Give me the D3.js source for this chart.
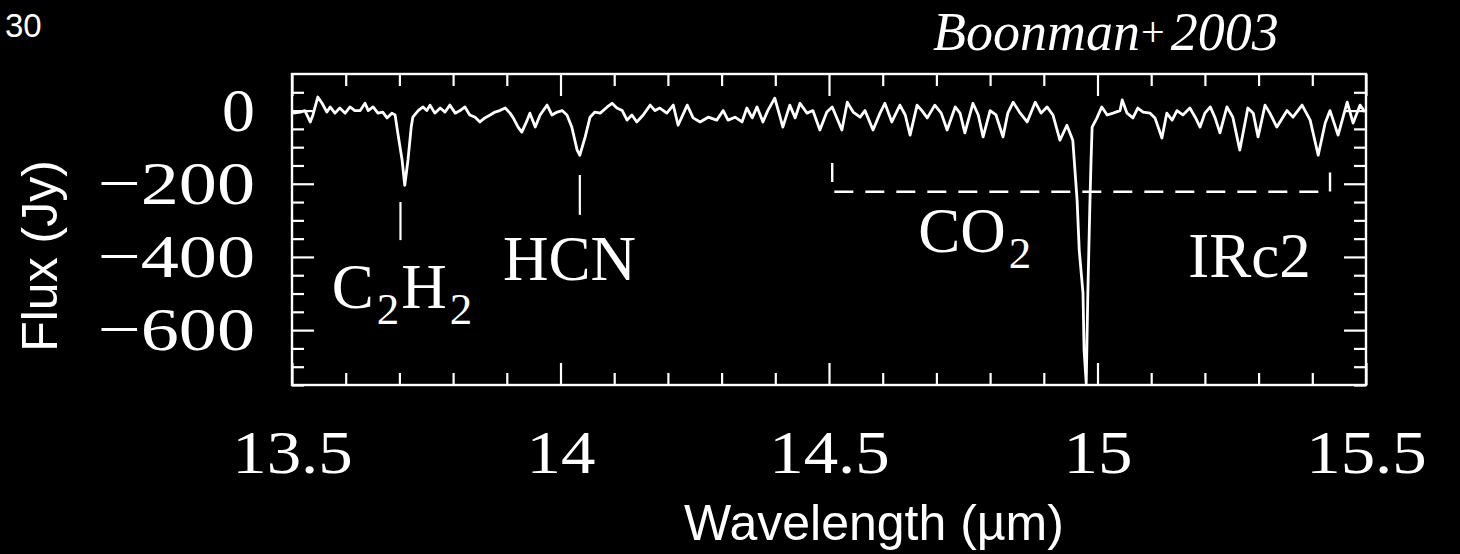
<!DOCTYPE html>
<html>
<head>
<meta charset="utf-8">
<script src="https://cdn.jsdelivr.net/npm/d3@7"></script>
<style>
  html, body { margin: 0; padding: 0; background: #000; }
  svg { display: block; }
</style>
</head>
<body>
<svg id="chart" width="1460" height="554"></svg>
<script>
// ISO-SWS spectrum towards Orion IRc2: flux (Jy) against wavelength (µm)
const wavelength = [
  13.502, 13.515, 13.524, 13.534, 13.539, 13.548, 13.556, 13.565, 13.571, 13.580,
  13.589, 13.599, 13.608, 13.617, 13.627, 13.636, 13.642, 13.651, 13.660, 13.669,
  13.677, 13.686, 13.692, 13.697, 13.705, 13.710, 13.716, 13.722, 13.725, 13.735,
  13.744, 13.751, 13.757, 13.766, 13.776, 13.785, 13.794, 13.804, 13.813, 13.822,
  13.831, 13.841, 13.850, 13.859, 13.869, 13.878, 13.887, 13.897, 13.906, 13.912,
  13.921, 13.928, 13.938, 13.943, 13.953, 13.962, 13.975, 13.984, 13.994, 14.003,
  14.012, 14.021, 14.031, 14.036,
  14.046, 14.055, 14.064, 14.074, 14.087, 14.096, 14.105, 14.115, 14.124, 14.133,
  14.142, 14.154, 14.167, 14.176, 14.185, 14.198, 14.210, 14.219, 14.236, 14.247,
  14.260, 14.275, 14.291, 14.303, 14.312, 14.325, 14.338, 14.347, 14.357, 14.366,
  14.377, 14.386, 14.399, 14.409, 14.414, 14.427, 14.437, 14.446, 14.459, 14.470,
  14.483, 14.496, 14.506, 14.524, 14.534,
  14.545, 14.558, 14.567, 14.582, 14.595, 14.604, 14.617, 14.632, 14.642, 14.651,
  14.664, 14.673, 14.683, 14.697, 14.709, 14.720, 14.735, 14.744, 14.753, 14.768,
  14.778, 14.787, 14.800, 14.811, 14.824, 14.833, 14.843, 14.856, 14.869, 14.884,
  14.895, 14.906, 14.917, 14.930, 14.943, 14.954, 14.962, 14.966, 14.973, 14.975,
  14.979, 14.982, 14.986, 14.988, 14.990, 14.999, 15.008, 15.018, 15.029, 15.042,
  15.046, 15.055, 15.066, 15.075, 15.085, 15.098, 15.107, 15.120, 15.129, 15.139,
  15.148, 15.159, 15.172, 15.182, 15.191, 15.200, 15.210, 15.219, 15.228, 15.241,
  15.252, 15.265, 15.280, 15.290, 15.299, 15.312, 15.321, 15.334, 15.353, 15.364,
  15.381, 15.396, 15.411, 15.424, 15.433, 15.448, 15.465, 15.476, 15.489, 15.498
];
const flux = [
  -7, -4, 0, -31, -12, 37, 20, -4, 10, -7,
  7, -7, 10, 0, 0, 20, 0, 10, -7, -4,
  -20, -7, -12, -61, -135, -204, -135, -45, -18, 0,
  10, 0, 15, -7, 7, -4, 15, -7, 0, 10,
  -12, -18, -31, -20, -12, -4, 0, 7, -7, -20,
  -45, -59, -26, -7, -45, -12, 15, -12, -4, 0,
  -12, -45, -108, -122,
  -72, -18, -4, -7, 10, 20, 7, 0, -26, -12,
  -31, -12, 15, 0, 7, -7, 15, -40, 15, -20,
  -31, -18, -26, 0, -26, -18, -31, 7, -20, 10,
  -31, 0, 34, -18, -45, 15, -20, 20, -7, 0,
  -53, -4, 10, -53, 23,
  -4, -18, 0, -53, -7, 20, -31, 15, -12, -67,
  15, 0, -20, 15, -7, -53, 10, -7, -61, 20,
  -12, -72, 0, -12, -72, -7, 23, -7, -31, 23,
  -7, 10, -12, -81, -40, -81, -245, -382, -499, -655,
  -745, -499, -245, -135, -45, -20, 10, -12, -7, 0,
  29, -7, -20, 7, -4, -7, -20, -75, -7, -26,
  0, -12, 7, -18, -45, -7, 10, -20, -61, 10,
  -18, -108, 7, -7, -72, 15, -7, -45, 0, -18,
  15, -26, -122, -34, 0, -67, 23, -34, 15, -4
];

// Axis ticks
const xTickLabels = [13.5, 14, 14.5, 15, 15.5];
const yTickLabels = [0, -200, -400, -600];

// Line identifications: [wavelength, upper flux, lower flux]
const lineMarks = [[13.702, -250, -354], [14.036, -176, -285]];
// CO2 band bracket: corner points [wavelength, flux]
const co2Bracket = [[14.506, -143], [14.506, -222], [15.433, -222], [15.433, -160]];

const svg = d3.select("#chart");
const width = 1460, height = 554;
const plotLeft = 292, plotRight = 1366, plotTop = 74, plotBottom = 385;

svg.append("rect").attr("width", width).attr("height", height).attr("fill", "#000");

const x = d3.scaleLinear().domain([13.5, 15.5]).range([plotLeft, plotRight]);
const y = d3.scaleLinear().domain([-750, 100]).range([plotBottom, plotTop]);

const xMinor = d3.range(13.6, 15.45, 0.1).filter(v => Math.abs(v * 2 - Math.round(v * 2)) > 1e-6);
const yMinor = d3.range(50, -751, -50).filter(v => v % 200 !== 0);

const serif = "'Liberation Serif', 'Times New Roman', serif";
const sans = "'Liberation Sans', Arial, Helvetica, sans-serif";

function styleAxis(g) {
  g.select(".domain").remove();
  g.selectAll(".tick line").attr("stroke", "#fff").attr("stroke-width", 2.2);
}

// bottom axis: minor + major ticks with labels
svg.append("g").attr("transform", `translate(0,${plotBottom})`)
  .call(d3.axisBottom(x).tickValues(xMinor).tickSizeInner(-12).tickSizeOuter(0).tickFormat(""))
  .call(styleAxis);
const xAxisG = svg.append("g").attr("transform", `translate(0,${plotBottom})`)
  .call(d3.axisBottom(x).tickValues(xTickLabels).tickSizeInner(-22).tickSizeOuter(0)
    .tickPadding(45).tickFormat(d3.format("")))
  .call(styleAxis);
xAxisG.selectAll("text")
  .attr("fill", "#fff").attr("font-family", serif).attr("font-size", 61);

// top axis (ticks only)
svg.append("g").attr("transform", `translate(0,${plotTop})`)
  .call(d3.axisTop(x).tickValues(xMinor).tickSizeInner(-12).tickSizeOuter(0).tickFormat(""))
  .call(styleAxis);
svg.append("g").attr("transform", `translate(0,${plotTop})`)
  .call(d3.axisTop(x).tickValues(xTickLabels).tickSizeInner(-22).tickSizeOuter(0).tickFormat(""))
  .call(styleAxis);

// left axis with labels
svg.append("g").attr("transform", `translate(${plotLeft},0)`)
  .call(d3.axisLeft(y).tickValues(yMinor).tickSizeInner(-12).tickSizeOuter(0).tickFormat(""))
  .call(styleAxis);
const yAxisG = svg.append("g").attr("transform", `translate(${plotLeft},0)`)
  .call(d3.axisLeft(y).tickValues(yTickLabels).tickSizeInner(-22).tickSizeOuter(0)
    .tickPadding(37).tickFormat(d => d < 0 ? "\u2212" + Math.abs(d) : String(d)))
  .call(styleAxis);
yAxisG.selectAll("text")
  .attr("fill", "#fff").attr("font-family", serif).attr("font-size", 61);

// right axis (ticks only)
svg.append("g").attr("transform", `translate(${plotRight},0)`)
  .call(d3.axisRight(y).tickValues(yMinor).tickSizeInner(-12).tickSizeOuter(0).tickFormat(""))
  .call(styleAxis);
svg.append("g").attr("transform", `translate(${plotRight},0)`)
  .call(d3.axisRight(y).tickValues(yTickLabels).tickSizeInner(-22).tickSizeOuter(0).tickFormat(""))
  .call(styleAxis);

// widen the serif numerals to a Computer-Modern-like proportion
xAxisG.selectAll("text").each(function () {
  const w = this.getComputedTextLength();
  d3.select(this).attr("textLength", w * 1.13).attr("lengthAdjust", "spacingAndGlyphs");
});
yAxisG.selectAll("text").each(function (d) {
  const w = this.getComputedTextLength();
  d3.select(this).attr("textLength", w * (d < 0 ? 1.25 : 1.08)).attr("lengthAdjust", "spacingAndGlyphs");
});

// frame
svg.append("rect")
  .attr("x", plotLeft).attr("y", plotTop)
  .attr("width", plotRight - plotLeft).attr("height", plotBottom - plotTop)
  .attr("fill", "none").attr("stroke", "#fff").attr("stroke-width", 2.4);

// spectrum
const spectrum = wavelength.map((w, i) => [w, flux[i]]);
svg.append("path")
  .datum(spectrum)
  .attr("fill", "none")
  .attr("stroke", "#fff")
  .attr("stroke-width", 2.8)
  .attr("stroke-linejoin", "round")
  .attr("d", d3.line().x(d => x(d[0])).y(d => y(d[1])));

// identification ticks
svg.selectAll(".mark").data(lineMarks).enter().append("line")
  .attr("x1", d => x(d[0])).attr("x2", d => x(d[0]))
  .attr("y1", d => y(d[1])).attr("y2", d => y(d[2]))
  .attr("stroke", "#fff").attr("stroke-width", 2.2);

// CO2 band bracket
svg.append("path")
  .datum(co2Bracket)
  .attr("fill", "none").attr("stroke", "#fff").attr("stroke-width", 2.4)
  .attr("stroke-dasharray", "19,12")
  .attr("d", d3.line().x(d => x(d[0])).y(d => y(d[1])));

// species labels; subscripts drop below the baseline
function label(parts, lam, f) {
  const t = svg.append("text")
    .attr("x", x(lam)).attr("y", y(f))
    .attr("fill", "#fff").attr("font-family", serif).attr("font-size", 63);
  let lowered = false;
  parts.forEach(p => {
    if (p.sub) {
      t.append("tspan").attr("font-size", 45).attr("dy", 16).attr("dx", 3).text(p.sub);
      lowered = true;
    } else {
      const s = t.append("tspan").text(p.t);
      if (lowered) { s.attr("dy", -16).attr("dx", 2); lowered = false; }
    }
  });
}
label([{ t: "C" }, { sub: "2" }, { t: "H" }, { sub: "2" }], 13.574, -540);
label([{ t: "HCN" }], 13.893, -463);
label([{ t: "CO" }, { sub: "2" }], 14.666, -386);
label([{ t: "IRc2" }], 15.169, -455);

// axis titles
svg.append("text")
  .attr("x", 874).attr("y", 540)
  .attr("text-anchor", "middle")
  .attr("fill", "#fff").attr("font-family", sans).attr("font-size", 50)
  .text("Wavelength (\u00b5m)");

svg.append("text")
  .attr("transform", "translate(57,256) rotate(-90)")
  .attr("text-anchor", "middle")
  .attr("fill", "#fff").attr("font-family", sans).attr("font-size", 50)
  .text("Flux (Jy)");

// slide number
svg.append("text")
  .attr("x", 5).attr("y", 37)
  .attr("fill", "#fff").attr("font-family", sans).attr("font-size", 33)
  .text("30");

// reference
const ref = svg.append("text")
  .attr("x", 933).attr("y", 50)
  .attr("fill", "#fff").attr("font-family", serif).attr("font-style", "italic").attr("font-size", 54);
ref.append("tspan").text("Boonman");
ref.append("tspan").attr("font-size", 42).attr("font-style", "normal").attr("dy", -4).attr("dx", 1).text("+");
ref.append("tspan").attr("dy", 4).attr("dx", 6).text("2003");
</script>
</body>
</html>
